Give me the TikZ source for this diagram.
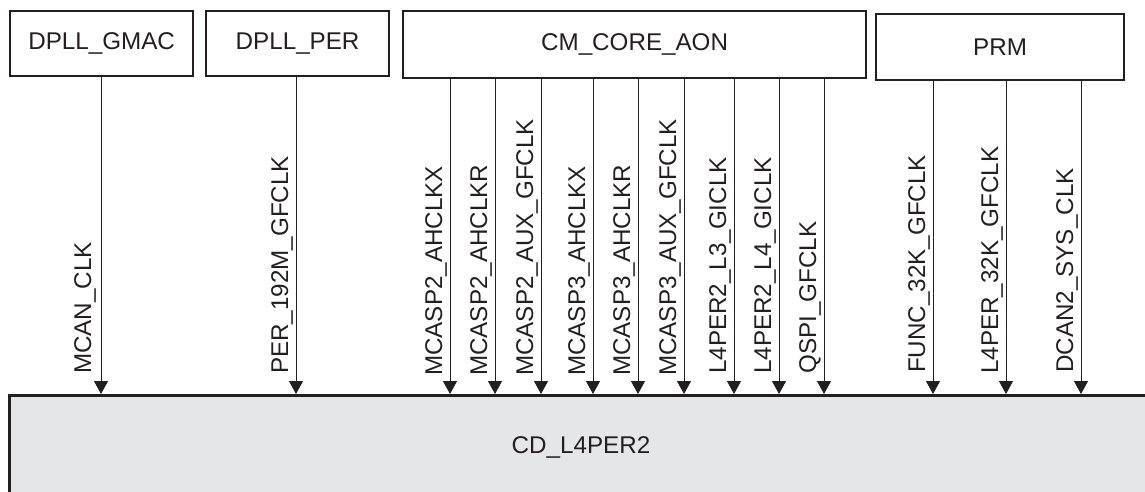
\documentclass[tikz,border=0pt]{standalone}
\usepackage{fontspec}
\setmainfont{Liberation Sans}
\usetikzlibrary{arrows.meta}
\definecolor{ink}{HTML}{231F20}
\definecolor{cdfill}{HTML}{E5E6E8}
\begin{document}
\begin{tikzpicture}[x=1pt,y=-1pt,
  txt/.style={font=\fontsize{24.2}{29}\selectfont, text=ink},
  topbox/.style={draw=ink, line width=2.2pt, fill=white, anchor=north west, inner sep=0pt, txt},
  arr/.style={draw=ink, line width=0.9pt, -{Triangle[length=13pt,width=14pt]}},
  sig/.style={txt, rotate=90, anchor=base west, inner sep=0pt}]
\useasboundingbox (0,0) rectangle (1145,491);
\clip (0,0) rectangle (1145,491);
% bottom domain
\node[draw=ink, line width=3pt, fill=cdfill, anchor=north west, minimum width=1160pt, minimum height=120pt, inner sep=0pt] (cd) at (8,394) {};
\node[txt] (cdl) at (581,447) {CD\_L4PER2};
% top boxes
\node[topbox, minimum width=183pt, minimum height=65pt] (gmac) at (9,10) {DPLL\_GMAC};
\node[topbox, minimum width=183pt, minimum height=65pt] (per) at (205,10) {DPLL\_PER};
\node[topbox, minimum width=463pt, minimum height=67pt] (core) at (402,10) {CM\_CORE\_AON};
\node[topbox, minimum width=248pt, minimum height=66pt] (prm) at (875,13) {PRM};
% arrow start points
\coordinate (a1) at (101,75);
\coordinate (a2) at (296,75);
\coordinate (c1) at (450,77);
\coordinate (c2) at (495,77);
\coordinate (c3) at (541,77);
\coordinate (c4) at (593,77);
\coordinate (c5) at (638,77);
\coordinate (c6) at (684,77);
\coordinate (c7) at (734,77);
\coordinate (c8) at (779,77);
\coordinate (c9) at (824,77);
\coordinate (p1) at (933,79);
\coordinate (p2) at (1006,79);
\coordinate (p3) at (1081,79);
% connectors
\foreach \c in {a1,a2,c1,c2,c3,c4,c5,c6,c7,c8,c9,p1,p2,p3}{
  \draw[arr] (\c) -- (\c |- cd.north);
}
% labels
\node[sig] (l1) at (91,374) {MCAN\_CLK};
\node[sig] (l2) at (288,374) {PER\_192M\_GFCLK};
\node[sig] (l3) at (442,376) {MCASP2\_AHCLKX};
\node[sig] (l4) at (487,376) {MCASP2\_AHCLKR};
\node[sig] (l5) at (533,376) {MCASP2\_AUX\_GFCLK};
\node[sig] (l6) at (585,376) {MCASP3\_AHCLKX};
\node[sig] (l7) at (630,376) {MCASP3\_AHCLKR};
\node[sig] (l8) at (676,376) {MCASP3\_AUX\_GFCLK};
\node[sig] (l9) at (726,374) {L4PER2\_L3\_GICLK};
\node[sig] (l10) at (771,374) {L4PER2\_L4\_GICLK};
\node[sig] (l11) at (816,374) {QSPI\_GFCLK};
\node[sig] (l12) at (925,373) {FUNC\_32K\_GFCLK};
\node[sig] (l13) at (998,374) {L4PER\_32K\_GFCLK};
\node[sig] (l14) at (1073,373) {DCAN2\_SYS\_CLK};
\end{tikzpicture}
\end{document}
